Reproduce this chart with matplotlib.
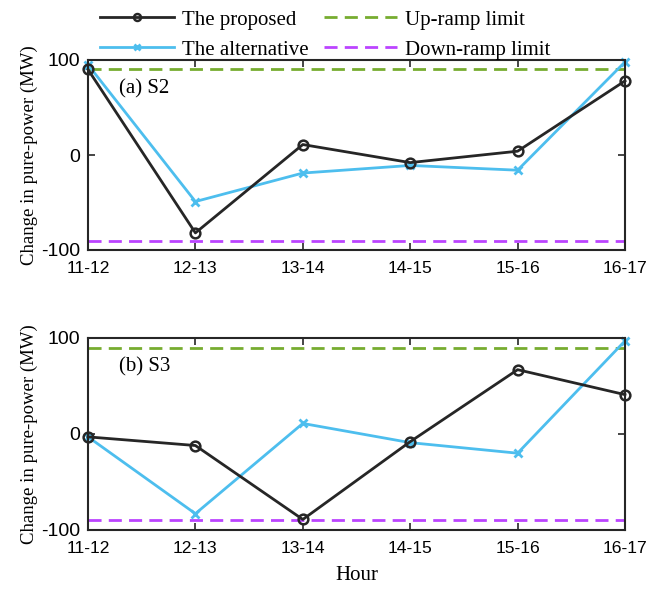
import numpy as np
import matplotlib
matplotlib.use("Agg")
import matplotlib.pyplot as plt
from matplotlib.lines import Line2D

# ----------------------------------------------------------------------
hours = ["11-12", "12-13", "13-14", "14-15", "15-16", "16-17"]

s2_proposed = [90, -82, 11, -8, 4, 78]
s2_alternative = [95, -49, -19, -11, -16, 98]

s3_proposed = [-3, -12, -89, -8, 67, 41]
s3_alternative = [-3, -83, 11, -9, -20, 97]

up_limit = 90
down_limit = -90

C_PROP = "#262626"
C_ALT = "#4DBEEE"
C_UP = "#77AC30"
C_DOWN = "#BB44FF"
DASH = (0, (4.7, 2.6))

SERIF = ["Liberation Serif", "DejaVu Serif"]
SANS = ["Liberation Sans", "DejaVu Sans"]

plt.rcParams["font.family"] = SANS
plt.rcParams["axes.unicode_minus"] = False

fig = plt.figure(figsize=(6.47, 5.92), dpi=100)
ax1 = fig.add_axes([88 / 647, 1 - 250 / 592, 537 / 647, 190 / 592])
ax2 = fig.add_axes([88 / 647, 1 - 530 / 592, 537 / 647, 192 / 592])

x = np.arange(len(hours))
panels = [(ax1, s2_proposed, s2_alternative, "(a) S2"),
          (ax2, s3_proposed, s3_alternative, "(b) S3")]

for ax, prop, alt, tag in panels:
    ax.axhline(up_limit, color=C_UP, lw=2, ls=DASH, zorder=1)
    ax.axhline(down_limit, color=C_DOWN, lw=2, ls=DASH, zorder=1)
    ax.plot(x, prop, color=C_PROP, lw=2, marker="o", ms=7, mfc="none",
            mew=1.8, zorder=3, clip_on=False)
    ax.plot(x, alt, color=C_ALT, lw=2, marker="x", ms=6, mew=2,
            zorder=2, clip_on=False)
    ax.set_xlim(0, len(hours) - 1)
    ax.set_ylim(-100, 100)
    ax.set_yticks([-100, 0, 100])
    ax.set_xticks(x)
    ax.set_xticklabels(hours)
    ax.tick_params(direction="in", top=True, right=True, length=5,
                   width=1.2, labelsize=14, color="#262626")
    ax.tick_params(axis="x", pad=8, labelsize=12.6)
    ax.tick_params(axis="y", pad=5.5)
    for sp in ax.spines.values():
        sp.set_linewidth(1.5)
        sp.set_color("#262626")
    ax.set_ylabel("Change in pure-power (MW)", family=SERIF, fontsize=13.5,
                  labelpad=2)
    ax.text(0.058, 0.85, tag, transform=ax.transAxes, family=SERIF,
            fontsize=15, va="center", ha="left")

ax2.set_xlabel("Hour", family=SERIF, fontsize=15, labelpad=7)

handles = [
    Line2D([], [], color=C_PROP, lw=2, marker="o", ms=5, mfc="none", mew=1.8),
    Line2D([], [], color=C_ALT, lw=2, marker="x", ms=5, mew=2),
    Line2D([], [], color=C_UP, lw=2, ls=DASH),
    Line2D([], [], color=C_DOWN, lw=2, ls=DASH),
]
labels = ["The proposed", "The alternative", "Up-ramp limit", "Down-ramp limit"]
fig.legend(handles, labels, ncol=2, frameon=False, loc="upper left",
           bbox_to_anchor=(100 / 647, 1 - 10 / 592), borderaxespad=0,
           borderpad=0, prop={"family": SERIF, "size": 15},
           handlelength=3.55, handletextpad=0.38, columnspacing=0.72,
           labelspacing=0.5)

fig.savefig("out.png", dpi=100)
